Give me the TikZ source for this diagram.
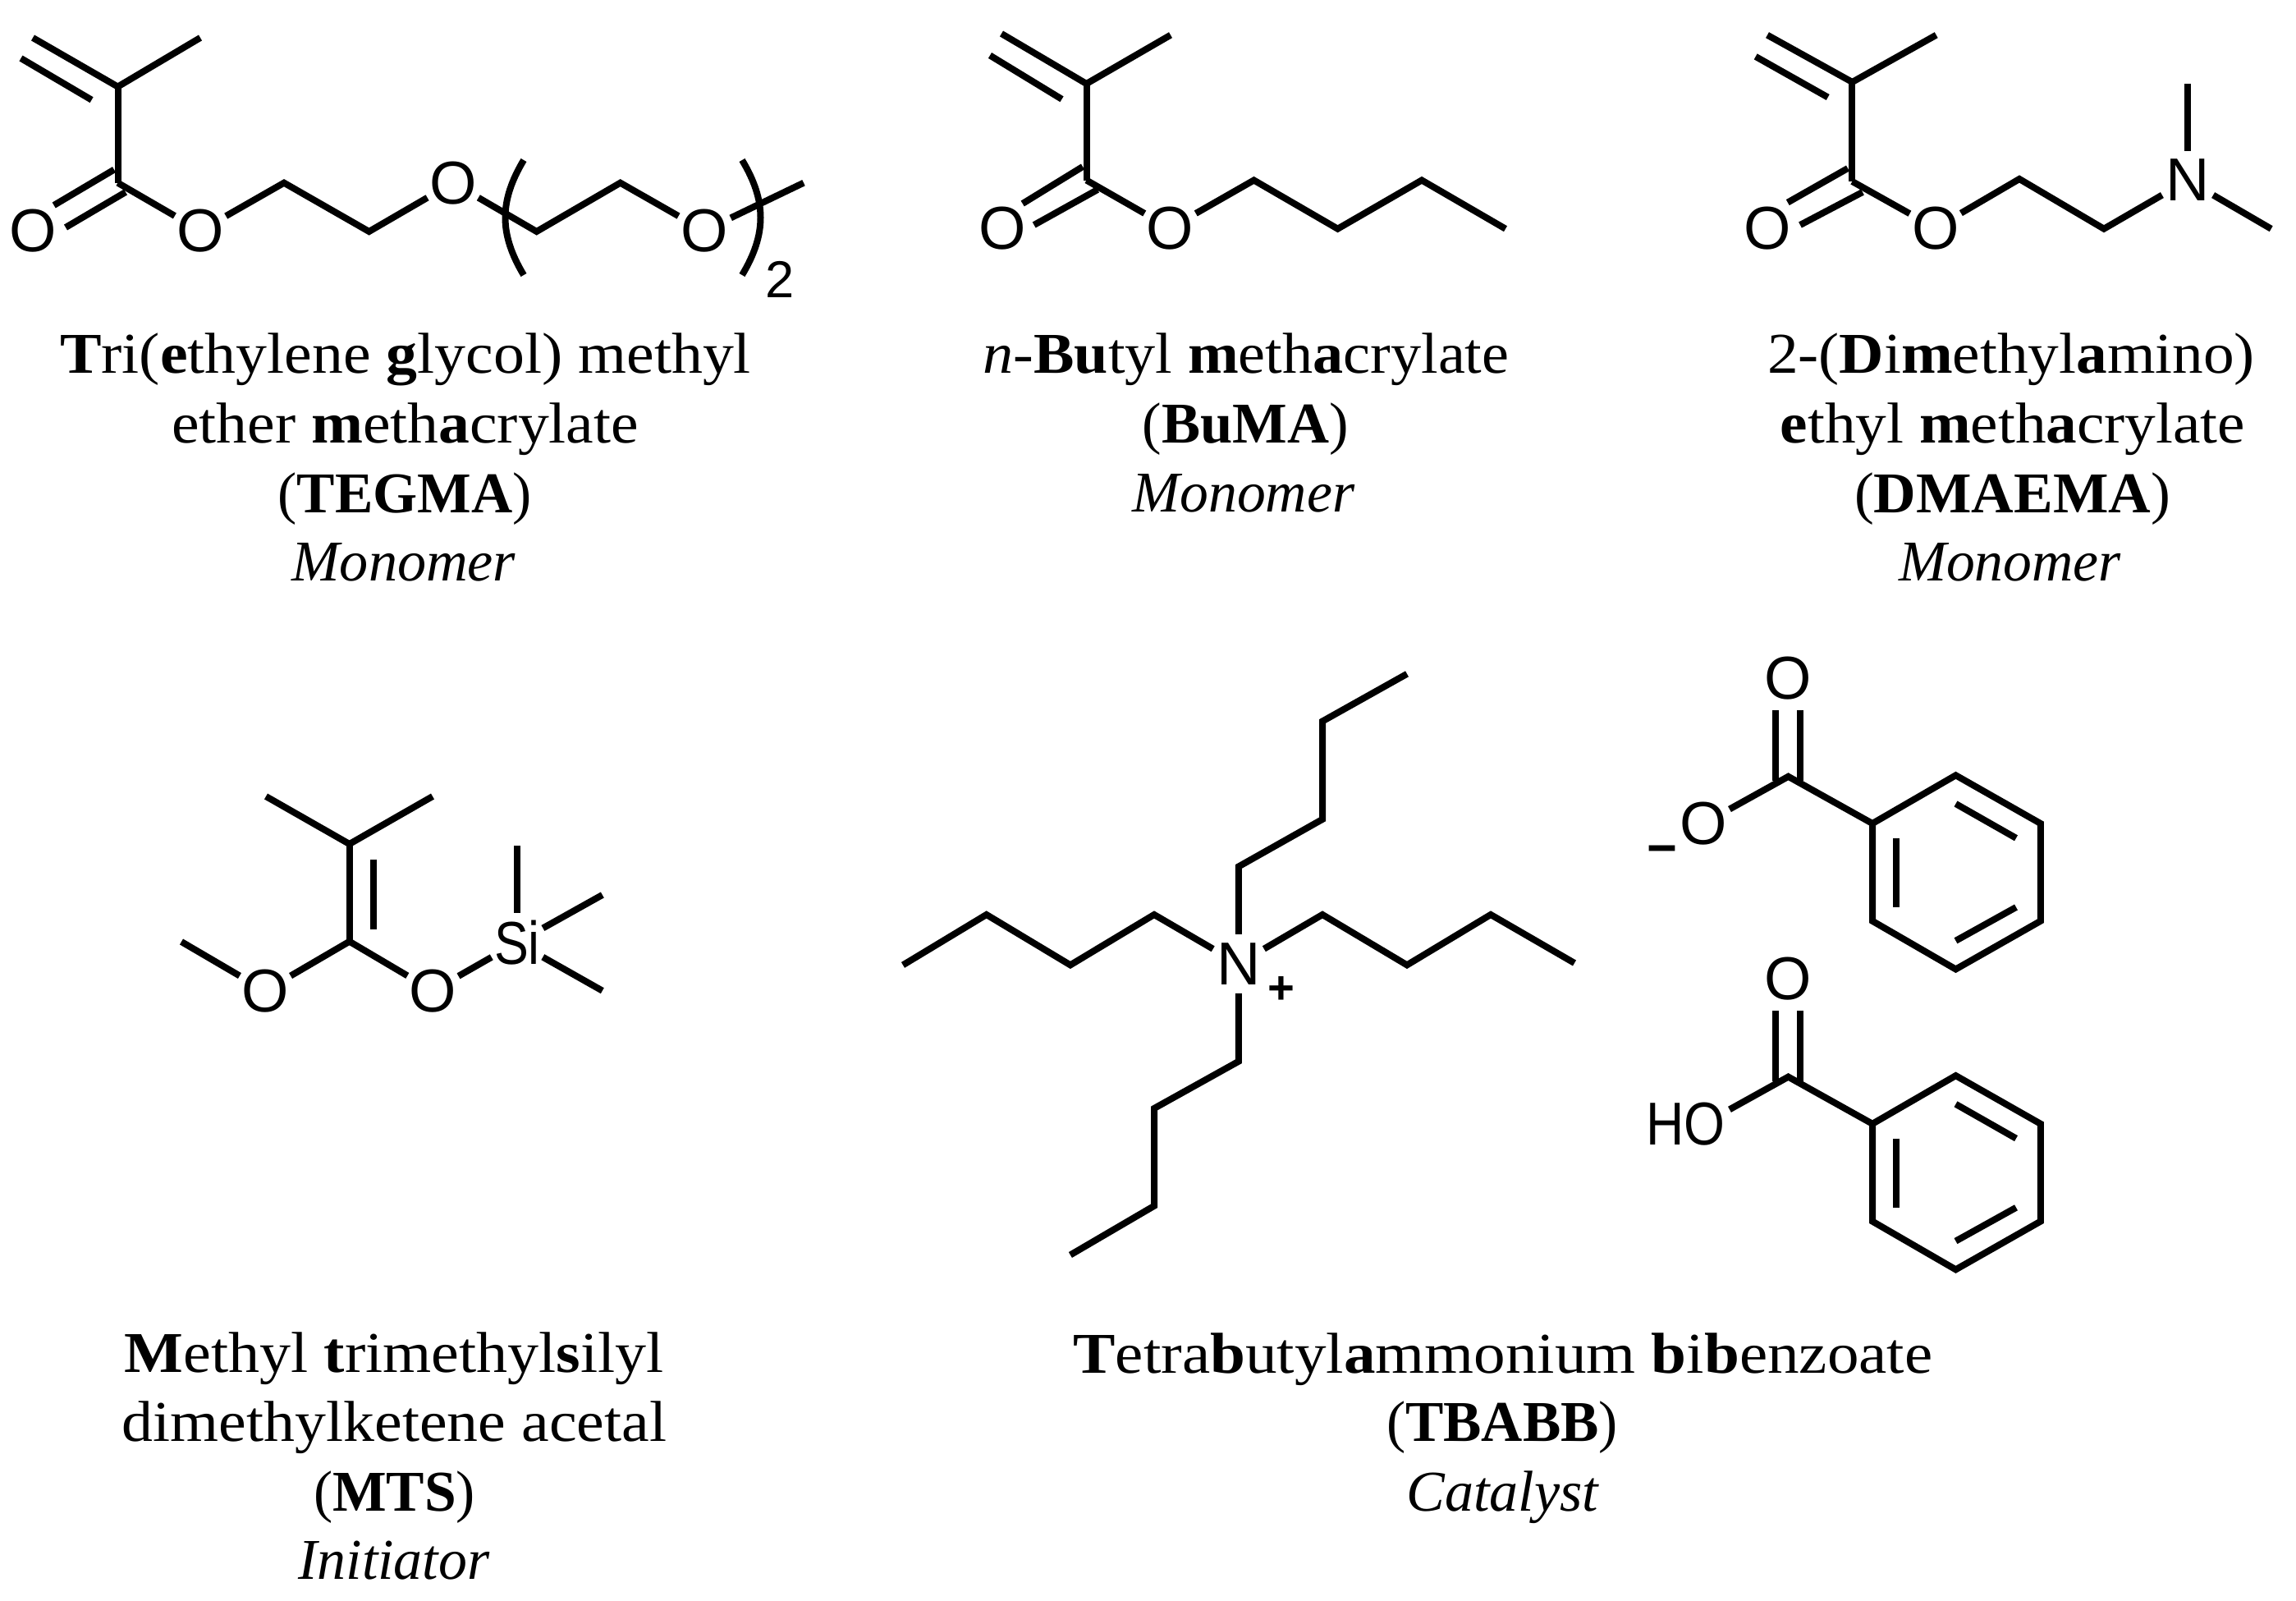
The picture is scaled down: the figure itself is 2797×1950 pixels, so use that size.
\documentclass[tikz,border=0pt]{standalone}
\usepackage{fontspec}
\usepackage{graphicx}
\setmainfont{Liberation Serif}
\newfontfamily\atomfont{Liberation Sans}
\newdimen\pxu
\pxu=0.02cm
\tikzset{
  bond/.style={line width=0.16cm,line cap=butt,line join=miter,miter limit=10,black},
  toatom/.style={shorten >=0.72cm},
  fromatom/.style={shorten <=0.72cm},
  atom/.style={inner sep=0pt,font=\atomfont\fontsize{42}{48}\selectfont},
  chg/.style={inner sep=0pt,font=\atomfont\bfseries\fontsize{32}{36}\selectfont},
  capt/.style={inner sep=0pt,anchor=base,font=\fontsize{40}{48}\selectfont}
}
\newcommand{\capline}[5]{\node[capt] (#1) at (#2,#3) {\resizebox{#4\pxu}{\height}{#5}};}
\begin{document}
\begin{tikzpicture}[x=0.02cm,y=-0.02cm]
\path[use as bounding box,fill=white] (0,0) rectangle (2797,1950);

% ---------- TEGMA ----------
\coordinate (ta) at (143.5,105.6);
\coordinate (tb) at (40,46);
\coordinate (tc) at (244,46);
\coordinate (td) at (143.5,222.7);
\coordinate (te1) at (25.5,71);
\coordinate (te2) at (111.6,121.7);
\coordinate (tf1) at (139,206.6);
\coordinate (tf2) at (65.7,250);
\coordinate (tg1) at (153,234);
\coordinate (tg2) at (80,277);
\coordinate (th) at (346,222.7);
\coordinate (ti) at (449.6,282);
\coordinate (tj) at (653.7,282);
\coordinate (tk) at (755.7,222.7);
\coordinate (tl) at (979,222.7);
\node[atom] (tO1) at (40,281) {O};
\node[atom] (tO2) at (244,281) {O};
\node[atom] (tO3) at (551.7,222.7) {O};
\node[atom] (tO4) at (857.8,281) {O};
\draw[bond] (tb) -- (ta) -- (tc);
\draw[bond] (ta) -- (td);
\draw[bond] (te1) -- (te2);
\draw[bond] (tf1) -- (tf2);
\draw[bond] (tg1) -- (tg2);
\draw[bond,toatom] (td) -- (tO2.center);
\draw[bond,fromatom,toatom] (tO2.center) -- (th) -- (ti) -- (tO3.center);
\draw[bond,fromatom,toatom] (tO3.center) -- (tj) -- (tk) -- (tO4.center);
\draw[bond,fromatom] (tO4.center) -- (tl);
\coordinate (tbl1) at (638,195);
\coordinate (tbl2) at (638,335);
\coordinate (tbr1) at (904,195);
\coordinate (tbr2) at (904,335);
\draw[bond] (tbl1) .. controls (608,245) and (608,285) .. (tbl2);
\draw[bond] (tbr1) .. controls (934,245) and (934,285) .. (tbr2);
\node[atom,font=\atomfont\fontsize{36}{40}\selectfont,anchor=base] (tn) at (950,362.7) {2};
\capline{t1}{494}{454.5}{842}{\textbf{T}ri(\textbf{e}thylene \textbf{g}lycol) methyl}
\capline{t2}{493.5}{539.5}{569}{ether \textbf{m}eth\textbf{a}crylate}
\capline{t3}{493}{624}{309}{(\textbf{TEGMA})}
\capline{t4}{492}{707}{273}{\textit{Monomer}}

% ---------- BuMA ----------
\coordinate (ba) at (1323.5,102);
\coordinate (bb) at (1220,41);
\coordinate (bc) at (1426,42.7);
\coordinate (bd) at (1323.5,219.5);
\coordinate (be1) at (1206,67.5);
\coordinate (be2) at (1293.5,120.8);
\coordinate (bf1) at (1319,203);
\coordinate (bf2) at (1245.7,248);
\coordinate (bg1) at (1337,231);
\coordinate (bg2) at (1259.7,274);
\coordinate (bh) at (1527.5,219.5);
\coordinate (bi) at (1629.6,278.7);
\coordinate (bj) at (1732,219.5);
\coordinate (bk) at (1834,278.7);
\node[atom] (bO1) at (1221.4,277.8) {O};
\node[atom] (bO2) at (1425.5,277.8) {O};
\draw[bond] (bb) -- (ba) -- (bc);
\draw[bond] (ba) -- (bd);
\draw[bond] (be1) -- (be2);
\draw[bond] (bf1) -- (bf2);
\draw[bond] (bg1) -- (bg2);
\draw[bond,toatom] (bd) -- (bO2.center);
\draw[bond,fromatom] (bO2.center) -- (bh) -- (bi) -- (bj) -- (bk);
\capline{b1}{1518}{454.5}{641}{\textit{n}-\textbf{Bu}tyl \textbf{m}eth\textbf{a}crylate}
\capline{b2}{1517}{539.5}{251}{(\textbf{BuMA})}
\capline{b3}{1515}{623.5}{271}{\textit{Monomer}}

% ---------- DMAEMA ----------
\coordinate (da) at (2256.4,100);
\coordinate (db) at (2153,42.7);
\coordinate (dc) at (2358.7,42.7);
\coordinate (dd) at (2256.4,221);
\coordinate (de1) at (2138.7,68.9);
\coordinate (de2) at (2226.7,118.5);
\coordinate (df1) at (2251,205);
\coordinate (df2) at (2177.8,246.6);
\coordinate (dg1) at (2269,234);
\coordinate (dg2) at (2193,274);
\coordinate (dh) at (2460,218);
\coordinate (di) at (2563,278.7);
\coordinate (dj) at (2665,102);
\coordinate (dk) at (2766.7,278.7);
\node[atom] (dO1) at (2153,277.8) {O};
\node[atom] (dO2) at (2357.8,277.8) {O};
\node[atom] (dN) at (2665,219.5) {N};
\draw[bond] (db) -- (da) -- (dc);
\draw[bond] (da) -- (dd);
\draw[bond] (de1) -- (de2);
\draw[bond] (df1) -- (df2);
\draw[bond] (dg1) -- (dg2);
\draw[bond,toatom] (dd) -- (dO2.center);
\draw[bond,fromatom,toatom] (dO2.center) -- (dh) -- (di) -- (dN.center);
\draw[bond,toatom] (dj) -- (dN.center);
\draw[bond,fromatom] (dN.center) -- (dk);
\capline{d1}{2450}{454.5}{594}{2-(\textbf{D}i\textbf{m}ethyl\textbf{a}mino)}
\capline{d2}{2452}{539.5}{566.5}{\textbf{e}thyl \textbf{m}eth\textbf{a}crylate}
\capline{d3}{2451.5}{624}{385}{(\textbf{DMAEMA})}
\capline{d4}{2448.5}{707}{271}{\textit{Monomer}}

% ---------- MTS ----------
\coordinate (ma) at (425.7,1028);
\coordinate (mb) at (324,970);
\coordinate (mc) at (527,970);
\coordinate (md) at (425.7,1146.7);
\coordinate (me1) at (454.7,1046.7);
\coordinate (me2) at (454.7,1131.7);
\coordinate (mf) at (221,1147);
\coordinate (mg) at (630,1030);
\coordinate (mh) at (733.8,1090);
\coordinate (mi) at (733.8,1206.7);
\node[atom] (mO1) at (323,1206.7) {O};
\node[atom] (mO2) at (527.3,1206.7) {O};
\node[atom] (mSi) at (630,1148) {\scalebox{0.85}[1]{Si}};
\draw[bond] (mb) -- (ma) -- (mc);
\draw[bond] (ma) -- (md);
\draw[bond] (me1) -- (me2);
\draw[bond,toatom] (mf) -- (mO1.center);
\draw[bond,toatom] (md) -- (mO1.center);
\draw[bond,toatom] (md) -- (mO2.center);
\draw[bond,fromatom,toatom] (mO2.center) -- (mSi.center);
\draw[bond,toatom] (mg) -- (mSi.center);
\draw[bond,fromatom] (mSi.center) -- (mh);
\draw[bond,fromatom] (mSi.center) -- (mi);
\capline{m1}{480.5}{1671.7}{657}{\textbf{M}ethyl \textbf{t}rimethyl\textbf{s}ilyl}
\capline{m2}{480.5}{1755}{663}{dimethylketene acetal}
\capline{m3}{480.6}{1840}{197}{(\textbf{MTS})}
\capline{m4}{480}{1923}{233}{\textit{Initiator}}

% ---------- TBA cation ----------
\node[atom] (nN) at (1508.8,1173.9) {N};
\node[chg] (nP) at (1560.5,1206) {+};
\coordinate (n1) at (1508.8,1055.5);
\coordinate (n2) at (1611,997.9);
\coordinate (n3) at (1611,878.5);
\coordinate (n4) at (1714,820.8);
\coordinate (n5) at (1406,1114);
\coordinate (n6) at (1303.9,1175.4);
\coordinate (n7) at (1201.7,1114);
\coordinate (n8) at (1100,1175.4);
\coordinate (n9) at (1611,1114);
\coordinate (n10) at (1714,1175.4);
\coordinate (n11) at (1816,1114);
\coordinate (n12) at (1918,1173);
\coordinate (n13) at (1508.8,1292.8);
\coordinate (n14) at (1406,1350);
\coordinate (n15) at (1406,1468.8);
\coordinate (n16) at (1303.9,1528.5);
\draw[bond,fromatom] (nN.center) -- (n1) -- (n2) -- (n3) -- (n4);
\draw[bond,fromatom] (nN.center) -- (n5) -- (n6) -- (n7) -- (n8);
\draw[bond,fromatom] (nN.center) -- (n9) -- (n10) -- (n11) -- (n12);
\draw[bond,fromatom] (nN.center) -- (n13) -- (n14) -- (n15) -- (n16);

% ---------- Benzoate ----------
\node[atom] (aO1) at (2178.5,826) {O};
\node[atom] (aO2) at (2075.5,1003) {O};
\node[chg,font=\atomfont\bfseries\fontsize{36}{40}\selectfont] (aM) at (2024.6,1042) {−};
\coordinate (ac) at (2178.5,945.8);
\coordinate (ad1) at (2163,865);
\coordinate (ad2) at (2163,951);
\coordinate (ae1) at (2193,865);
\coordinate (ae2) at (2193,951);
\coordinate (ar1) at (2281,1003);
\coordinate (ar2) at (2382.5,944.3);
\coordinate (ar3) at (2485.8,1003);
\coordinate (ar4) at (2485.8,1121.8);
\coordinate (ar5) at (2382.5,1180.5);
\coordinate (ar6) at (2281,1121.8);
\coordinate (ai1) at (2309.7,1020.8);
\coordinate (ai2) at (2309.7,1105);
\coordinate (ai3) at (2382.5,979);
\coordinate (ai4) at (2456,1020.8);
\coordinate (ai5) at (2382.5,1145.8);
\coordinate (ai6) at (2456,1105);
\draw[bond] (ad1) -- (ad2);
\draw[bond] (ae1) -- (ae2);
\draw[bond,fromatom] (aO2.center) -- (ac) -- (ar1);
\draw[bond] (ar1) -- (ar2) -- (ar3) -- (ar4) -- (ar5) -- (ar6) -- cycle;
\draw[bond] (ai1) -- (ai2);
\draw[bond] (ai3) -- (ai4);
\draw[bond] (ai5) -- (ai6);

% ---------- Benzoic acid ----------
\begin{scope}[shift={(0,365.8)}]
\node[atom] (hO1) at (2178.5,826) {O};
\coordinate (hO2c) at (2075.5,1003);
\coordinate (hc) at (2178.5,945.8);
\coordinate (hd1) at (2163,865);
\coordinate (hd2) at (2163,951);
\coordinate (he1) at (2193,865);
\coordinate (he2) at (2193,951);
\coordinate (hr1) at (2281,1003);
\coordinate (hr2) at (2382.5,944.3);
\coordinate (hr3) at (2485.8,1003);
\coordinate (hr4) at (2485.8,1121.8);
\coordinate (hr5) at (2382.5,1180.5);
\coordinate (hr6) at (2281,1121.8);
\coordinate (hi1) at (2309.7,1020.8);
\coordinate (hi2) at (2309.7,1105);
\coordinate (hi3) at (2382.5,979);
\coordinate (hi4) at (2456,1020.8);
\coordinate (hi5) at (2382.5,1145.8);
\coordinate (hi6) at (2456,1105);
\node[atom,anchor=east] (hOH) at (2102,1003) {\scalebox{0.87}[1]{HO}};
\draw[bond] (hd1) -- (hd2);
\draw[bond] (he1) -- (he2);
\draw[bond,fromatom] (hO2c) -- (hc) -- (hr1);
\draw[bond] (hr1) -- (hr2) -- (hr3) -- (hr4) -- (hr5) -- (hr6) -- cycle;
\draw[bond] (hi1) -- (hi2);
\draw[bond] (hi3) -- (hi4);
\draw[bond] (hi5) -- (hi6);
\end{scope}

\capline{c1}{1831}{1672}{1047}{\textbf{T}etra\textbf{b}utyl\textbf{a}mmonium \textbf{b}i\textbf{b}enzoate}
\capline{c2}{1830}{1755}{282}{(\textbf{TBABB})}
\capline{c3}{1831}{1840}{235}{\textit{Catalyst}}
\end{tikzpicture}
\end{document}
